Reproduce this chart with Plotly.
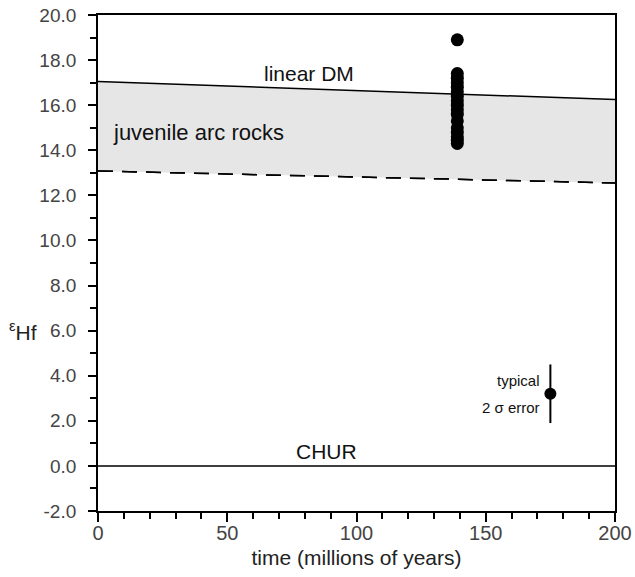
import plotly.graph_objects as go

# Data
dm_x = [0, 200]
dm_y = [17.05, 16.25]
arc_x = [0, 200]
arc_y = [13.08, 12.55]
chur_x = [0, 200]
chur_y = [0.0, 0.0]

zircon_age = [139] * 17
zircon_ehf = [18.9, 17.4, 17.2, 17.0, 16.8, 16.6, 16.4, 16.2, 16.0, 15.8,
              15.6, 15.3, 15.0, 14.8, 14.6, 14.45, 14.3]

err_x = [175]
err_y = [3.2]
err_2s = [1.3]

y_ticks = [-2, 0, 2, 4, 6, 8, 10, 12, 14, 16, 18, 20]
y_ticktext = ["-2.0", "0.0", "2.0", "4.0", "6.0", "8.0", "10.0", "12.0",
              "14.0", "16.0", "18.0", "20.0"]
x_ticks = [0, 50, 100, 150, 200]

font = "Liberation Sans, Arial, sans-serif"
fig = go.Figure()

# shaded juvenile arc field
fig.add_trace(go.Scatter(x=arc_x, y=arc_y, mode="lines",
                         line=dict(color="black", width=1.5, dash="15px,9px"),
                         hoverinfo="skip", showlegend=False))
fig.add_trace(go.Scatter(x=dm_x, y=dm_y, mode="lines", fill="tonexty",
                         fillcolor="#e6e6e6",
                         line=dict(color="black", width=1.5),
                         hoverinfo="skip", showlegend=False))
fig.add_trace(go.Scatter(x=arc_x, y=arc_y, mode="lines",
                         line=dict(color="black", width=1.5, dash="15px,9px"),
                         hoverinfo="skip", showlegend=False))
fig.add_trace(go.Scatter(x=chur_x, y=chur_y, mode="lines",
                         line=dict(color="black", width=1.5),
                         showlegend=False))
fig.add_trace(go.Scatter(x=zircon_age, y=zircon_ehf, mode="markers",
                         marker=dict(color="black", size=13),
                         showlegend=False))
fig.add_trace(go.Scatter(x=err_x, y=err_y, mode="markers",
                         marker=dict(color="black", size=12),
                         error_y=dict(type="data", array=err_2s, color="black",
                                      thickness=2, width=0),
                         showlegend=False))

ann_font = dict(family=font, size=21, color="#111")
fig.add_annotation(x=81.5, y=17.42, text="linear DM", showarrow=False, font=ann_font)
fig.add_annotation(x=39.0, y=14.8, text="juvenile arc rocks", showarrow=False,
                   font=dict(family=font, size=22, color="#111"))
fig.add_annotation(x=88.4, y=0.62, text="CHUR", showarrow=False, font=ann_font)
fig.add_annotation(x=171.7, y=3.78, text="typical", showarrow=False, xanchor="right",
                   font=dict(family=font, size=15, color="#111"))
fig.add_annotation(x=171.7, y=2.57, text="2 σ error", showarrow=False, xanchor="right",
                   font=dict(family=font, size=15, color="#111"))
fig.add_annotation(x=-0.145, y=6.0, xref="paper", yref="y", text="<sup>ε</sup>Hf",
                   showarrow=False, xanchor="center",
                   font=dict(family=font, size=21, color="#222"))

fig.update_layout(
    width=635, height=577,
    margin=dict(l=98, r=20, t=15, b=66),
    paper_bgcolor="white", plot_bgcolor="white",
    font=dict(family=font, size=15, color="#333"),
    xaxis=dict(range=[0, 200], tickvals=x_ticks, ticks="outside", ticklen=9,
               tickwidth=1.5, tickcolor="black", showline=True, linecolor="black",
               linewidth=1.8, mirror=True, showgrid=False, zeroline=False,
               automargin=False, ticklabelstandoff=-6, ticklabeloverflow="allow",
               minor=dict(dtick=10, ticks="outside", ticklen=6, tickwidth=1.5,
                          tickcolor="black"),
               title=dict(text="time (millions of years)", font=dict(size=21, color="#222"),
                          standoff=7),
               tickfont=dict(size=20, color="#444")),
    yaxis=dict(range=[-2, 20], tickvals=y_ticks, ticktext=y_ticktext, ticks="outside",
               ticklen=8, tickwidth=1.5, tickcolor="black", showline=True,
               linecolor="black", linewidth=1.8, mirror=True, showgrid=False,
               zeroline=False, automargin=False, ticklabelstandoff=8,
               ticklabeloverflow="allow",
               minor=dict(dtick=1, ticks="outside", ticklen=6, tickwidth=1.5,
                          tickcolor="black"),
               tickfont=dict(size=19, color="#444")),
)

fig.write_html("out.html", config={"displayModeBar": False},
               post_script="document.body.style.margin='0';")
